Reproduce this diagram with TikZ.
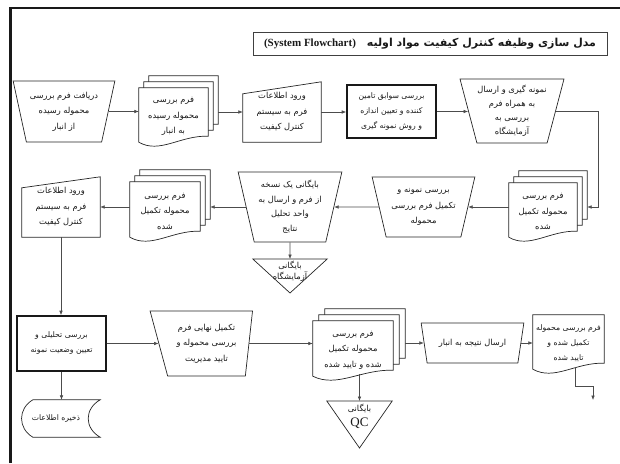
\documentclass[tikz,border=0pt]{standalone}
\usepackage{fontspec}
\setmainfont{Liberation Serif}
\newfontfamily\arabicfont[Script=Arabic]{DejaVu Sans}
\TeXXeTstate=1
\usetikzlibrary{shapes.geometric,arrows.meta,calc,backgrounds}
\newcommand{\prs}[1]{\beginR #1\endR}
\newcommand{\docout}[1]{%
  \begin{pgfonlayer}{background}
  \draw[shp,fill=white] let \p1=(#1.north west), \p2=(#1.south east), \n1={\x2-\x1} in
    (\x1,\y1) -- (\x2,\y1) -- (\x2,{\y2+9pt})
    .. controls ({\x1+0.6*\n1},{\y2+10pt}) and ({\x1+0.3*\n1},{\y2-9pt}) .. (\x1,{\y2+3pt}) -- cycle;
  \end{pgfonlayer}}
\newcommand{\miout}[2]{\draw[shp] let \p1=(#1.north west), \p2=(#1.south east) in
  (\x1,{\y1-#2}) -- (\x1,\y2) -- (\x2,\y2) -- (\x2,\y1) -- cycle;}
\newcommand{\triout}[2]{\draw[shp] (#1.north west) -- (#1.north east) -- ($(#1.north)+(0,#2)$) -- cycle;}
\newcommand{\sdout}[1]{\draw[shp] let \p1=(#1.north west), \p2=(#1.south east) in
  ({\x1+12pt},\y1) -- (\x2,\y1) .. controls ({\x2-16pt},{\y1-9pt}) and ({\x2-16pt},{\y2+9pt}) .. (\x2,\y2)
  -- ({\x1+12pt},\y2) .. controls ({\x1-3pt},{\y2+9pt}) and ({\x1-3pt},{\y1-9pt}) .. ({\x1+12pt},\y1) -- cycle;}

\begin{document}
\begin{tikzpicture}[x=1pt,y=-1pt,
  every node/.style={font=\arabicfont\fontsize{8.3}{15.5}\selectfont, text=black!90, inner sep=0pt, align=center},
  small/.style={font=\arabicfont\fontsize{7.7}{15}\selectfont},
  shp/.style={draw=black!85, line width=0.7pt},
  arr/.style={draw=black!70, line width=0.6pt, -{Latex[length=4.5pt,width=3.6pt]}},
  tz/.style={trapezium, trapezium stretches=true, shp, fill=white},
  rbox/.style={rectangle, draw=black!90, line width=1.6pt},
  plain/.style={rectangle}
]
\useasboundingbox (0,0) rectangle (620,463);
\draw[line width=2.6pt, black!90] (10.7,463) -- (10.7,8) -- (620,8);

% title
\node[draw=black!75, line width=0.9pt, minimum width=354pt, minimum height=23pt, font=\fontsize{11}{13}\selectfont] (title) at (430,43.5)
  {\textbf{(System Flowchart)}\quad{\arabicfont\bfseries\prs{مدل سازی وظیفه کنترل کیفیت مواد اولیه}}};

% row 1
\node[tz, minimum width=102pt, minimum height=61pt, trapezium left angle=107, trapezium right angle=107] (tz1) at (64,111.5)
  {\prs{دریافت فرم بررسی}\\\prs{محموله رسیده}\\\prs{از انبار}};
\node[plain, minimum width=69pt, minimum height=57pt] (Ab) at (183.5,104.5) {};
\node[plain, minimum width=69pt, minimum height=57pt] (Am) at (178.5,110.5) {};
\node[plain, minimum width=69pt, minimum height=57pt] (fA) at (173.5,116.5)
  {\prs{فرم بررسی}\\\prs{محموله رسیده}\\\prs{به انبار}};
\docout{Ab}\docout{Am}\docout{fA}
\node[plain, minimum width=78pt, minimum height=60pt] (mi1) at (282,112)
  {\prs{ورود اطلاعات}\\\prs{فرم به سیستم}\\\prs{کنترل کیفیت}};
\miout{mi1}{12pt}
\node[rbox, small, minimum width=89pt, minimum height=53pt] (r1) at (391.5,111.5)
  {\prs{بررسی سوابق تامین}\\\prs{کننده و تعیین اندازه}\\\prs{و روش نمونه گیری}};
\node[tz, minimum width=104pt, minimum height=64pt, trapezium left angle=108, trapezium right angle=108,
  font=\arabicfont\fontsize{8.3}{14}\selectfont] (tz2) at (512,111)
  {\prs{نمونه گیری و ارسال}\\\prs{به همراه فرم}\\\prs{بررسی به}\\\prs{آزمایشگاه}};

% row 2
\node[plain, minimum width=68pt, minimum height=57pt] (Bb) at (553,199.5) {};
\node[plain, minimum width=68pt, minimum height=57pt] (Bm) at (548,205.5) {};
\node[plain, minimum width=68pt, minimum height=57pt] (fB) at (543,211.5)
  {\prs{فرم بررسی}\\\prs{محموله تکمیل}\\\prs{شده}};
\docout{Bb}\docout{Bm}\docout{fB}
\node[tz, minimum width=103pt, minimum height=60pt, trapezium left angle=108, trapezium right angle=108] (tz3) at (423.5,207)
  {\prs{بررسی نمونه و}\\\prs{تکمیل فرم بررسی}\\\prs{محموله}};
\node[tz, minimum width=104pt, minimum height=70pt, trapezium left angle=105, trapezium right angle=105,
  font=\arabicfont\fontsize{8.3}{14.5}\selectfont] (tz4) at (290,207)
  {\prs{بایگانی یک نسخه}\\\prs{از فرم و ارسال به}\\\prs{واحد تحلیل}\\\prs{نتایج}};
\node[plain, minimum width=74pt, minimum height=24pt, anchor=north, font=\arabicfont\fontsize{8.3}{11}\selectfont] (tri1) at (290,259)
  {\prs{بایگانی}\\\prs{آزمایشگاه}};
\triout{tri1}{34}
\node[plain, minimum width=70pt, minimum height=58pt] (Cb) at (175,199) {};
\node[plain, minimum width=70pt, minimum height=58pt] (Cm) at (170,205) {};
\node[plain, minimum width=70pt, minimum height=58pt] (fC) at (165,211)
  {\prs{فرم بررسی}\\\prs{محموله تکمیل}\\\prs{شده}};
\docout{Cb}\docout{Cm}\docout{fC}
\node[plain, minimum width=78pt, minimum height=60pt] (mi2) at (61,207)
  {\prs{ورود اطلاعات}\\\prs{فرم به سیستم}\\\prs{کنترل کیفیت}};
\miout{mi2}{11pt}

% row 3
\node[rbox, small, minimum width=89pt, minimum height=55pt] (r2) at (61.5,343.5)
  {\prs{بررسی تحلیلی و}\\\prs{تعیین وضعیت نمونه}};
\node[plain, small, minimum width=79pt, minimum height=37pt] (sd) at (60.5,418.5) {\prs{ذخیره اطلاعات}\kern9pt};
\sdout{sd}
\node[tz, minimum width=103pt, minimum height=65pt, trapezium left angle=109, trapezium right angle=98] (tz5) at (206.5,343.5)
  {\prs{تکمیل نهایی فرم}\\\prs{بررسی محموله و}\\\prs{تایید مدیریت}};
\node[plain, minimum width=80pt, minimum height=58pt] (Db) at (365,338) {};
\node[plain, minimum width=80pt, minimum height=58pt] (Dm) at (359,344) {};
\node[plain, minimum width=80pt, minimum height=58pt] (fD) at (353,350)
  {\prs{فرم بررسی}\\\prs{محموله تکمیل}\\\prs{شده و تایید شده}};
\docout{Db}\docout{Dm}\docout{fD}
\node[plain, minimum width=65pt, minimum height=30pt, anchor=north] (tri2) at (359.5,401)
  {\prs{بایگانی}\\{\rmfamily\fontsize{13}{15}\selectfont QC}};
\triout{tri2}{47}
\node[tz, minimum width=103pt, minimum height=40pt, trapezium left angle=118, trapezium right angle=118] (tz6) at (472.5,343)
  {\prs{ارسال نتیجه به انبار}};
\node[plain, small, minimum width=71pt, minimum height=57pt] (doc16) at (568.5,343.5)
  {\prs{فرم بررسی محموله}\\\prs{تکمیل شده و}\\\prs{تایید شده}};
\docout{doc16}
\coordinate (k1) at (598,0);
\coordinate (out1) at (593,400);

% connectors
\draw[arr] (tz1.east) -- (tz1.east -| fA.west);
\draw[arr] (Ab.east |- mi1.west) -- (mi1.west);
\draw[arr] (mi1.east) -- (mi1.east -| r1.west);
\draw[arr] (r1.east) -- (r1.east -| tz2.west);
\draw[arr] (tz2.east) -- (tz2.east -| k1) -- (k1 |- tz3.east) -- (Bb.east |- tz3.east);
\draw[arr] (fB.west |- tz3.east) -- (tz3.east);
\draw[arr] (tz3.west) -- (tz4.east);
\draw[arr] (tz4.south) -- (tri1.north);
\draw[arr] (tz4.west) -- (Cb.east |- tz4.west);
\draw[arr] (fC.west |- mi2.east) -- (mi2.east);
\draw[arr] (mi2.south) -- (mi2.south |- r2.north);
\draw[arr] (r2.east) -- (tz5.west);
\draw[arr] (r2.south) -- (r2.south |- sd.north);
\draw[arr] (tz5.east) -- (fD.west |- tz5.east);
\draw[arr] ([yshift=5pt]tri2.north |- fD.south) -- (tri2.north);
\draw[arr] (Db.east |- tz6.west) -- (tz6.west);
\draw[arr] (tz6.east) -- (doc16.west |- tz6.east);
\draw[arr] ($(doc16.south)+(6.5,-4)$) |- ($(out1)+(0,-14)$) -- (out1);
\end{tikzpicture}
\end{document}
